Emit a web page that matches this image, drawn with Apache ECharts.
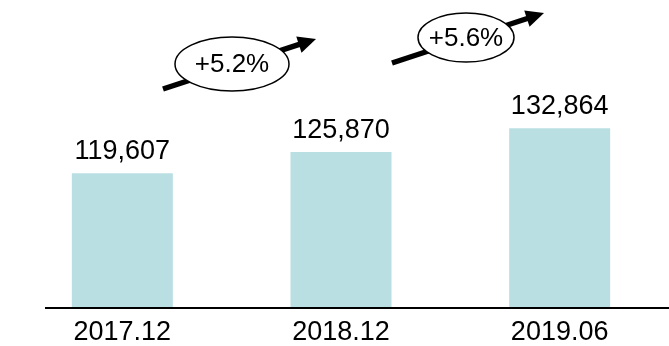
<!DOCTYPE html>
<html>
<head>
<meta charset="utf-8">
<script src="https://cdn.jsdelivr.net/npm/echarts@6/dist/echarts.min.js"></script>
<style>
  html, body { margin: 0; padding: 0; background: #ffffff; }
  #chart { width: 669px; height: 346px; }
</style>
</head>
<body>
<div id="chart"></div>
<script>
// Period labels and totals for each period
const periods = ['2017.12', '2018.12', '2019.06'];
const totals = [119607, 125870, 132864];
// Growth between consecutive periods
const growthLabels = ['+5.2%', '+5.6%'];

const FONT = '"Liberation Sans", Arial, sans-serif';
const chart = echarts.init(document.getElementById('chart'), null, { renderer: 'canvas' });

chart.setOption({
  animation: false,
  backgroundColor: '#ffffff',
  grid: { left: 13, right: 0, top: 104, bottom: 32, containLabel: false },
  xAxis: {
    type: 'category',
    data: periods,
    axisLine: { show: false },
    axisTick: { show: false },
    axisLabel: { color: '#000000', fontSize: 27, fontFamily: FONT, margin: 11 }
  },
  yAxis: {
    type: 'value',
    min: 80000,
    max: 140000,
    show: false,
    splitLine: { show: false }
  },
  series: [{
    type: 'bar',
    data: totals,
    barWidth: 101,
    itemStyle: { color: '#badfe2' },
    label: {
      show: true,
      position: 'top',
      distance: 8,
      color: '#000000',
      fontSize: 27,
      fontFamily: FONT,
      formatter: p => p.value.toLocaleString('en-US')
    }
  }]
});

// Baseline rule under the bars
const baseY = chart.convertToPixel({ yAxisIndex: 0 }, 80000);

// Growth arrows with oval call-outs
function growthArrow(x0, y0, x1, y1, cx, cy, rx, ry, text) {
  const ang = Math.atan2(y1 - y0, x1 - x0);
  const headLen = 18, headHalf = 8.5;
  const bx = x1 - headLen * Math.cos(ang), by = y1 - headLen * Math.sin(ang);
  const nx = -Math.sin(ang), ny = Math.cos(ang);
  return [
    { type: 'line', z: 10, shape: { x1: x0, y1: y0, x2: bx + 2 * Math.cos(ang), y2: by + 2 * Math.sin(ang) },
      style: { stroke: '#000000', lineWidth: 5.5 } },
    { type: 'polygon', z: 10, shape: { points: [[x1, y1], [bx + nx * headHalf, by + ny * headHalf], [bx - nx * headHalf, by - ny * headHalf]] },
      style: { fill: '#000000' } },
    { type: 'ellipse', z: 11, shape: { cx: cx, cy: cy, rx: rx, ry: ry },
      style: { fill: '#ffffff', stroke: '#000000', lineWidth: 1.5 } },
    { type: 'text', z: 12, x: cx, y: cy + 1,
      style: { text: text, fill: '#000000', font: '26px ' + FONT, align: 'center', verticalAlign: 'middle' } }
  ];
}

chart.setOption({
  graphic: [
    { type: 'line', z: 5, shape: { x1: 45, y1: baseY, x2: 669, y2: baseY },
      style: { stroke: '#000000', lineWidth: 2 } },
    ...growthArrow(163, 89, 316, 39, 232, 64, 57, 27, growthLabels[0]),
    ...growthArrow(392, 63, 544, 13, 466, 37.5, 48, 24.5, growthLabels[1])
  ]
});
</script>
</body>
</html>
